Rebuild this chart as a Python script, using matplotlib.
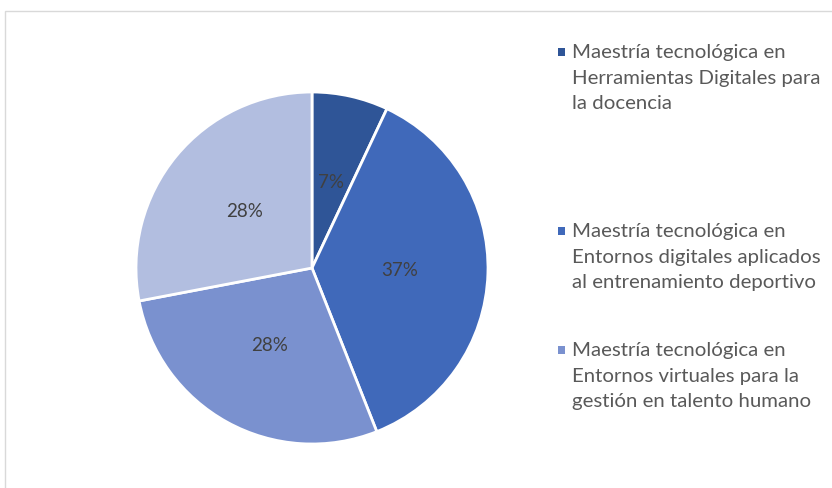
import matplotlib.pyplot as plt
from matplotlib.patches import Rectangle

# Distribution of graduates by programme
labels = [
    'Maestría tecnológica en\nHerramientas Digitales para\nla docencia',
    'Maestría tecnológica en\nEntornos digitales aplicados\nal entrenamiento deportivo',
    'Maestría tecnológica en\nEntornos virtuales para la\ngestión en talento humano',
    '',
]
shares = [7, 37, 28, 28]
colors = ['#2F5597', '#4069BA', '#7A91CF', '#B2BEE0']

W, H = 832, 488
fig = plt.figure(figsize=(W / 100, H / 100), dpi=100)
fig.patch.set_facecolor('white')

# thin chart-area border (top and left edges visible)
fig.patches.append(Rectangle((5 / W, -0.1), 1.2, (H - 11) / H + 0.1,
                             transform=fig.transFigure, fill=False,
                             edgecolor='#D9D9D9', linewidth=1.0))

cx, cy, r = 312, 268, 176
ax = fig.add_axes([(cx - r) / W, (H - cy - r) / H, 2 * r / W, 2 * r / H])
wedges, texts, autotexts = ax.pie(
    shares, colors=colors, startangle=90, counterclock=False,
    autopct='%1.0f%%', pctdistance=0.5,
    wedgeprops=dict(edgecolor='white', linewidth=2.0),
    textprops=dict(color='#404040', fontsize=13.5, family='Lato'))
ax.set_xlim(-1, 1)
ax.set_ylim(-1, 1)
ax.set_aspect('equal')
ax.axis('off')

# legend: three entries, marker next to the first line of each
legend_y = [52, 231, 350]
for lab, col, y in zip(labels[:3], colors[:3], legend_y):
    fig.patches.append(Rectangle((558 / W, 1 - (y + 4) / H), 7 / W, 8 / H,
                                 transform=fig.transFigure,
                                 facecolor=col, edgecolor='none'))
    fig.text(572 / W, 1 - (y - 8) / H, lab, ha='left', va='top',
             fontsize=14.7, family='Lato', color='#595959', linespacing=1.62)

fig.savefig('out.png', dpi=100, facecolor='white')
